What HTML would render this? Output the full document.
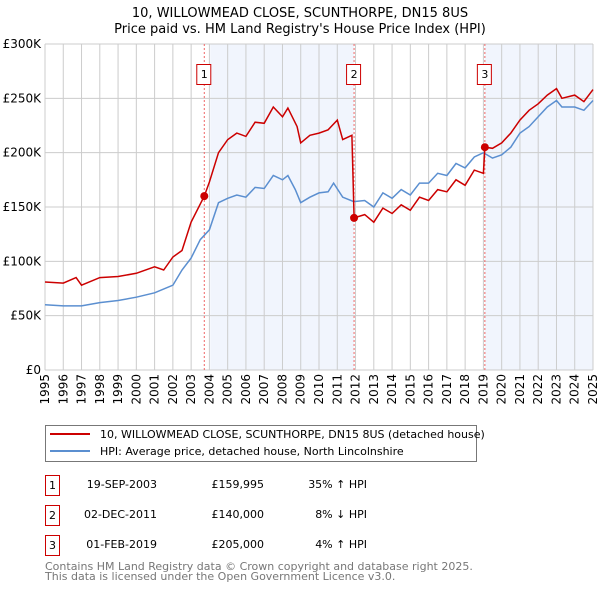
<!DOCTYPE html>
<html><head><meta charset="utf-8"><style>
body{margin:0;background:#fff;width:600px;height:590px;overflow:hidden;font-family:"DejaVu Sans","Liberation Sans",sans-serif;}
svg text{font-family:"DejaVu Sans","Liberation Sans",sans-serif;}
</style></head><body>
<svg id="chart" width="600" height="590" xmlns="http://www.w3.org/2000/svg">
<text x="300" y="17" text-anchor="middle" font-size="13" fill="#000">10, WILLOWMEAD CLOSE, SCUNTHORPE, DN15 8US</text>
<text x="300" y="33" text-anchor="middle" font-size="13" fill="#000">Price paid vs. HM Land Registry's House Price Index (HPI)</text>
<g id="plot"></g>
<g>
<rect x="45.5" y="425.5" width="431" height="36" fill="#fff" stroke="#777"/>
<line x1="50" y1="434" x2="90" y2="434" stroke="#cc0000" stroke-width="2"/>
<text x="100" y="438" font-size="11">10, WILLOWMEAD CLOSE, SCUNTHORPE, DN15 8US (detached house)</text>
<line x1="50" y1="451" x2="90" y2="451" stroke="#5b8fd0" stroke-width="2"/>
<text x="100" y="455" font-size="11">HPI: Average price, detached house, North Lincolnshire</text>
</g>
<g font-size="11">
<rect x="45.5" y="475.5" width="14" height="20" fill="none" stroke="#cc0000"/><text x="52.5" y="489" text-anchor="middle">1</text>
<text x="157" y="488" text-anchor="end">19-SEP-2003</text><text x="264" y="488" text-anchor="end">£159,995</text><text x="367" y="488" text-anchor="end">35% ↑ HPI</text>
<rect x="45.5" y="505.5" width="14" height="20" fill="none" stroke="#cc0000"/><text x="52.5" y="519" text-anchor="middle">2</text>
<text x="157" y="518" text-anchor="end">02-DEC-2011</text><text x="264" y="518" text-anchor="end">£140,000</text><text x="367" y="518" text-anchor="end">8% ↓ HPI</text>
<rect x="45.5" y="535.5" width="14" height="20" fill="none" stroke="#cc0000"/><text x="52.5" y="549" text-anchor="middle">3</text>
<text x="157" y="548" text-anchor="end">01-FEB-2019</text><text x="264" y="548" text-anchor="end">£205,000</text><text x="367" y="548" text-anchor="end">4% ↑ HPI</text>
</g>
<text x="45" y="570" font-size="11" fill="#777">Contains HM Land Registry data © Crown copyright and database right 2025.</text>
<text x="45" y="580" font-size="11" fill="#777">This data is licensed under the Open Government Licence v3.0.</text>
</svg>
<script>
const hpiYears=[1995,1996,1997,1998,1999,2000,2001,2002,2002.5,2003,2003.5,2004,2004.5,2005,2005.5,2006,2006.5,2007,2007.5,2008,2008.3,2008.7,2009,2009.5,2010,2010.5,2010.8,2011.3,2011.9,2012.5,2013,2013.5,2014,2014.5,2015,2015.5,2016,2016.5,2017,2017.5,2018,2018.5,2019,2019.5,2020,2020.5,2021,2021.5,2022,2022.5,2023,2023.3,2024,2024.5,2025];
const hpiValues=[60,59,59,62,64,67,71,78,92,103,120,129,154,158,161,159,168,167,179,175,179,166,154,159,163,164,172,159,155,156,150,163,158,166,161,172,172,181,179,190,186,196,200,195,198,205,218,224,233,242,248,242,242,239,248];
const priceYears=[1995,1996,1996.7,1997,1998,1999,2000,2001,2001.5,2002,2002.5,2003,2003.72,2004,2004.5,2005,2005.5,2006,2006.5,2007,2007.5,2008,2008.3,2008.8,2009,2009.5,2010,2010.5,2011,2011.3,2011.8,2011.92,2012.5,2013,2013.5,2014,2014.5,2015,2015.5,2016,2016.5,2017,2017.5,2018,2018.5,2019.0,2019.08,2019.5,2020,2020.5,2021,2021.5,2022,2022.5,2023,2023.3,2024,2024.5,2025];
const priceValues=[81,80,85,78,85,86,89,95,92,104,110,136,160,173,200,212,218,215,228,227,242,233,241,224,209,216,218,221,230,212,216,140,143,136,149,144,152,147,159,156,166,164,175,170,184,181,205,204,209,218,230,239,245,253,259,250,253,247,258];
const saleYears=[2003.72,2011.92,2019.08];
const saleValues=[160,140,205];
const saleLabels=["1","2","3"];
const yTicks=[0,50,100,150,200,250,300];
const yTickLabels=["£0","£50K","£100K","£150K","£200K","£250K","£300K"];
const xTicks=[1995,1996,1997,1998,1999,2000,2001,2002,2003,2004,2005,2006,2007,2008,2009,2010,2011,2012,2013,2014,2015,2016,2017,2018,2019,2020,2021,2022,2023,2024,2025];

const L=45,R=593,T=44,B=370;
const x=y=>L+(y-1995)/30*(R-L);
const yv=v=>B-v/300*(B-T);
const NS="http://www.w3.org/2000/svg";
const g=document.getElementById('plot');
function el(tag,attrs,parent){const e=document.createElementNS(NS,tag);for(const k in attrs)e.setAttribute(k,attrs[k]);(parent||g).appendChild(e);return e;}
const bg=el('rect',{x:L,y:T,width:R-L,height:B-T,fill:'#fff'});


const sh1=el('rect',{x:x(2004.05),y:T,width:x(saleYears[1])-x(2004.05),height:B-T,fill:'#eef3fc',opacity:0.8});


const sh2=el('rect',{x:x(saleYears[2]),y:T,width:R-x(saleYears[2]),height:B-T,fill:'#eef3fc',opacity:0.8});


xTicks.forEach(t=>{
  const l=el('line',{x1:x(t),x2:x(t),y1:T,y2:B,stroke:'#cccccc','stroke-width':1});
  
  
  const px=x(t)+4, py=B+4;
  const tx=el('text',{x:px,y:py,'font-size':12,'text-anchor':'end',transform:`rotate(-90 ${px} ${py})`});
  
  
  tx.textContent=t;
});
yTicks.forEach((t,i)=>{
  const l=el('line',{x1:L,x2:R,y1:yv(t),y2:yv(t),stroke:'#cccccc','stroke-width':1});
  
  
  const tx=el('text',{x:L-4,y:yv(t)+4,'font-size':12,'text-anchor':'end'});
  
  
  tx.textContent=yTickLabels[i];
});
saleYears.forEach((s,i)=>{
  const l=el('line',{x1:x(s),x2:x(s),y1:T,y2:B,stroke:'#ee6666','stroke-width':1,'stroke-dasharray':'2,2'});
  
  
  const r=el('rect',{x:x(s)-7.5,y:64.5,width:14,height:20,fill:'#fff',stroke:'#cc0000'});
  
  
  const tx=el('text',{x:x(s),y:78,'font-size':11,'text-anchor':'middle'});
  
  
  tx.textContent=saleLabels[i];
});
function path(xs,vs){return xs.map((a,i)=>(i?'L':'M')+x(a).toFixed(1)+','+yv(vs[i]).toFixed(1)).join('');}
const hp=el('path',{d:path(hpiYears,hpiValues),fill:'none',stroke:'#5b8fd0','stroke-width':1.5});


const pp=el('path',{d:path(priceYears,priceValues),fill:'none',stroke:'#cc0000','stroke-width':1.5});


saleYears.forEach((s,i)=>{
  const c=el('circle',{cx:x(s),cy:yv(saleValues[i]),r:4,fill:'#cc0000'});
  
  
});
</script>
</body></html>
